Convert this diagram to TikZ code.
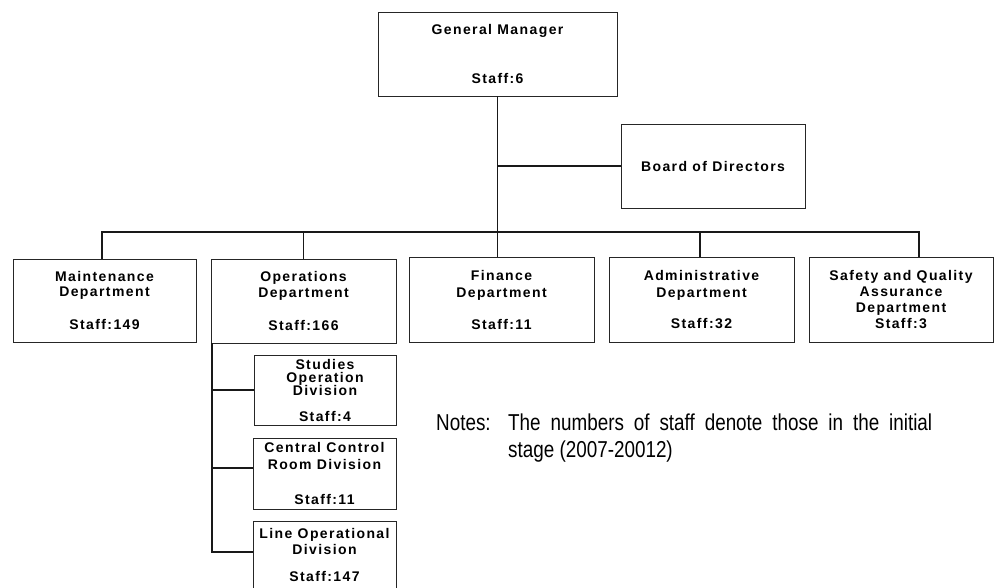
\documentclass[tikz,border=0pt]{standalone}
\usepackage{fontspec}
\setmainfont{Liberation Sans}
\newfontfamily\boxfont[LetterSpace=10]{Liberation Sans Bold}
\newfontfamily\narrowfont[FakeStretch=0.82]{Liberation Sans}
\begin{document}
\begin{tikzpicture}[x=1pt,y=-1pt,
  box/.style={draw=black!85,line width=0.9pt,inner sep=0pt,align=center,
    font=\boxfont\fontsize{14}{16}\selectfont},
  conn/.style={draw=black!90,line width=1.2pt},
  notetext/.style={inner sep=0pt,font=\narrowfont\fontsize{23}{27}\selectfont}]
\useasboundingbox (0,0) rectangle (994,587);
% top level
\node[box,minimum width=239,minimum height=84] (gm) at (497.5,54) {General Manager\\[33pt]Staff:6};
\node[box,minimum width=184,minimum height=84] (board) at (713,166) {Board of Directors};
% departments
\node[box,minimum width=183,minimum height=83] (maint) at (104.5,300.5) {Maintenance\\[-1pt]Department\\[17pt]Staff:149};
\node[box,minimum width=185,minimum height=84] (ops) at (303.5,301) {Operations\\Department\\[17pt]Staff:166};
\node[box,minimum width=185,minimum height=85] (fin) at (501.5,299.5) {Finance\\[1pt]Department\\[16pt]Staff:11};
\node[box,minimum width=185,minimum height=85] (adm) at (701.5,299.5) {Administrative\\[1pt]Department\\[16pt]Staff:32};
\node[box,minimum width=184,minimum height=85] (saf) at (901,299.5) {Safety and Quality\\Assurance\\Department\\Staff:3};
% divisions
\node[box,minimum width=142,minimum height=70] (stud) at (325,390) {Studies\\[-3pt]Operation\\[-3pt]Division\\[10pt]Staff:4};
\node[box,minimum width=143,minimum height=71] (cent) at (324.5,473.5) {Central Control\\[1pt]Room Division\\[19pt]Staff:11};
\node[box,minimum width=143,minimum height=68] (linediv) at (324.5,555) {Line Operational\\Division\\[11pt]Staff:147};
% bus coordinates
\coordinate (busL) at (102,232);
\coordinate (busR) at (919,232);
\coordinate (admV) at (700,232);
\coordinate (opsV) at (212,343);
\coordinate (centC) at (212,468);
\coordinate (lineC) at (212,552);
% connectors
\draw[conn] (gm.south) -- (gm.south |- fin.north);
\draw[conn] (gm.south |- board.west) -- (board.west);
\draw[conn] (busL |- maint.north) -- (busL) -- (busR) -- (busR |- saf.north);
\draw[conn] (ops.north) -- (ops.north |- busL);
\draw[conn] (admV) -- (admV |- adm.north);
\draw[conn] (opsV) -- (lineC) -- (lineC -| linediv.west);
\draw[conn] (opsV |- stud.west) -- (stud.west);
\draw[conn] (centC) -- (centC -| cent.west);
% notes
\node[notetext,anchor=base west] (notes) at (436,430.5) {Notes:};
\node[notetext,anchor=base west] (note1) at (508,430.5) {\makebox[424pt][s]{The numbers of staff denote those in the initial}};
\node[notetext,anchor=base west] (note2) at (508,457) {stage (2007-20012)};
\end{tikzpicture}
\end{document}
